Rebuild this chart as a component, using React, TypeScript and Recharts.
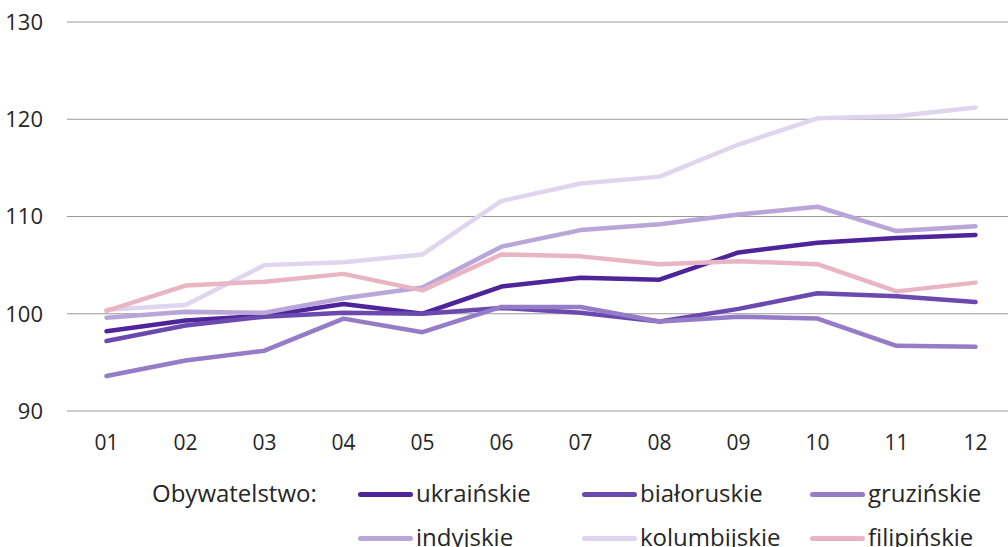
import React from 'react';
import { LineChart, Line, XAxis, YAxis, CartesianGrid, Legend } from 'recharts';

const months = ['01', '02', '03', '04', '05', '06', '07', '08', '09', '10', '11', '12'];
const ukrainskie = [98.2, 99.3, 99.8, 101.0, 100.0, 102.8, 103.7, 103.5, 106.3, 107.3, 107.8, 108.1];
const bialoruskie = [97.2, 98.8, 99.7, 100.1, 100.0, 100.6, 100.1, 99.2, 100.5, 102.1, 101.8, 101.2];
const gruzinskie = [93.6, 95.2, 96.2, 99.5, 98.1, 100.7, 100.7, 99.2, 99.7, 99.5, 96.7, 96.6];
const indyjskie = [99.6, 100.2, 100.1, 101.6, 102.7, 106.9, 108.6, 109.2, 110.2, 111.0, 108.5, 109.0];
const kolumbijskie = [100.4, 100.9, 105.0, 105.3, 106.1, 111.6, 113.4, 114.1, 117.4, 120.1, 120.3, 121.2];
const filipinskie = [100.3, 102.9, 103.3, 104.1, 102.4, 106.1, 105.9, 105.1, 105.4, 105.1, 102.3, 103.2];
const yTicks = [90, 100, 110, 120, 130];
const edgeTicks = [0, 1, 2, 3, 4, 5, 6, 7, 8, 9, 10, 11, 12];

const series = [
  { key: 'ukrainskie', name: 'ukraińskie', color: '#4d2499', values: ukrainskie },
  { key: 'bialoruskie', name: 'białoruskie', color: '#6c49ae', values: bialoruskie },
  { key: 'gruzinskie', name: 'gruzińskie', color: '#957cc6', values: gruzinskie },
  { key: 'indyjskie', name: 'indyjskie', color: '#b9a6d9', values: indyjskie },
  { key: 'kolumbijskie', name: 'kolumbijskie', color: '#dfd5ee', values: kolumbijskie },
  { key: 'filipinskie', name: 'filipińskie', color: '#e9b5c5', values: filipinskie },
];

const data = months.map((m, i) => {
  const row: Record<string, any> = { month: m };
  series.forEach((s) => {
    row[s.key] = s.values[i];
  });
  return row;
});

const FONT = "'Open Sans', 'Noto Sans', sans-serif";
const TEXT = '#262626';

const legendCols = [358, 582, 810];

const renderLegend = () => (
  <div style={{ position: 'relative', width: 1008, height: 77, fontFamily: FONT, fontSize: 24, color: TEXT }}>
    <div style={{ position: 'absolute', left: 152, top: 23, transform: 'translateY(-50%)', lineHeight: '30px', whiteSpace: 'nowrap' }}>
      Obywatelstwo:
    </div>
    {series.map((s, i) => {
      const col = i % 3;
      const row = Math.floor(i / 3);
      return (
        <div
          key={s.key}
          style={{
            position: 'absolute',
            left: legendCols[col],
            top: 23 + row * 44,
            transform: 'translateY(-50%)',
            display: 'flex',
            alignItems: 'center',
            whiteSpace: 'nowrap',
            lineHeight: '30px',
          }}
        >
          <span style={{ display: 'inline-block', width: 55, height: 5, borderRadius: 3, background: s.color, marginRight: 3, marginTop: 2 }} />
          <span>{s.name}</span>
        </div>
      );
    })}
  </div>
);

export default function App() {
  return (
    <div style={{ position: 'fixed', left: 0, top: 0, width: 1008, height: 547, overflow: 'hidden', background: '#fff' }}>
      <LineChart width={1030} height={547} data={data} margin={{ top: 22, right: 15, left: 0, bottom: 106 }}>
        <CartesianGrid vertical={false} stroke="#9a9a9a" strokeWidth={1} xAxisId="cat" />
        <XAxis
          xAxisId="edges"
          type="number"
          domain={[0, 12]}
          ticks={edgeTicks}
          height={0}
          axisLine={{ stroke: '#9a9a9a' }}
          tickLine={{ stroke: '#9a9a9a' }}
          tickSize={8}
          tickFormatter={() => ''}
          allowDataOverflow
        />
        <XAxis
          xAxisId="cat"
          dataKey="month"
          scale="band"
          height={30}
          axisLine={false}
          tickLine={false}
          tickMargin={18}
          interval={0}
          tick={{ fill: TEXT, fontSize: 21, fontFamily: FONT }}
        />
        <YAxis
          domain={[90, 130]}
          ticks={yTicks}
          width={67}
          axisLine={false}
          tickLine={false}
          tickMargin={18}
          tick={{ fill: TEXT, fontSize: 22, fontFamily: FONT }}
        />
        <Legend
          layout="horizontal"
          verticalAlign="middle"
          align="center"
          content={renderLegend}
          wrapperStyle={{ top: 470, left: 0, width: 1008, height: 77 }}
        />
        {series.map((s) => (
          <Line
            key={s.key}
            xAxisId="cat"
            type="linear"
            dataKey={s.key}
            name={s.name}
            stroke={s.color}
            strokeWidth={4.5}
            strokeLinecap="round"
            strokeLinejoin="round"
            dot={false}
            activeDot={false}
            isAnimationActive={false}
          />
        ))}
      </LineChart>
    </div>
  );
}
